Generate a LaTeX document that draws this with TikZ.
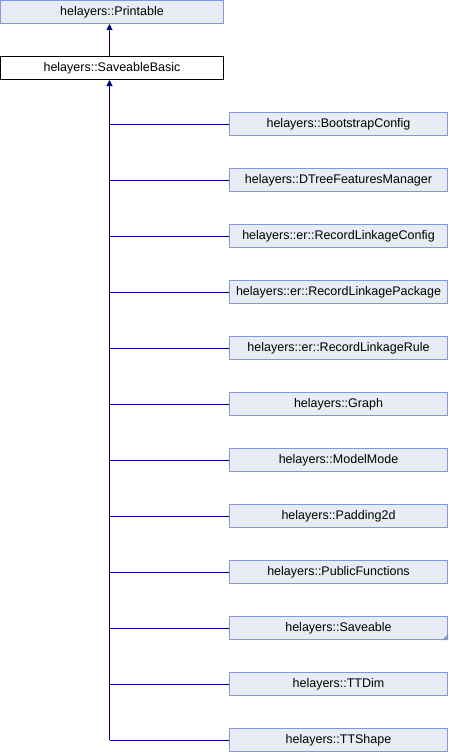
\documentclass[tikz,border=0pt]{standalone}
\usepackage{fontspec}
\setmainfont{Liberation Sans}
\usetikzlibrary{arrows.meta}
\definecolor{boxfill}{HTML}{E8ECF5}
\definecolor{boxline}{HTML}{8198D0}
\definecolor{conn}{HTML}{000080}
\tikzset{
  cls/.style={draw=boxline, fill=boxfill, line width=1pt, inner sep=0pt,
    font=\fontsize{12.5}{14}\selectfont, text=black},
  cur/.style={draw=black, fill=white, line width=1pt, inner sep=0pt,
    font=\fontsize{12.5}{14}\selectfont, text=black},
  child/.style={cls, minimum width=218pt, minimum height=23pt},
  edge/.style={draw=conn, line width=1pt},
  inh/.style={edge, -{Triangle[length=6pt,width=6pt]}},
}
\begin{document}
\begin{tikzpicture}[x=1pt,y=-1pt]
\useasboundingbox (0,0) rectangle (448,752);
\node[cls, minimum width=223pt, minimum height=23pt] (pr) at (112,12) {helayers::Printable};
\node[cur, minimum width=223pt, minimum height=23pt] (sb) at (112,68) {helayers::SaveableBasic};
\coordinate (t) at (109.5,68);
\foreach \k/\name/\txt in {
  0/c0/{helayers::BootstrapConfig},
  1/c1/{helayers::DTreeFeaturesManager},
  2/c2/{helayers::er::RecordLinkageConfig},
  3/c3/{helayers::er::RecordLinkagePackage},
  4/c4/{helayers::er::RecordLinkageRule},
  5/c5/{helayers::Graph},
  6/c6/{helayers::ModelMode},
  7/c7/{helayers::Padding2d},
  8/c8/{helayers::PublicFunctions},
  9/c9/{helayers::Saveable},
  10/c10/{helayers::TTDim},
  11/c11/{helayers::TTShape}}{
  \node[child] (\name) at (338.5,124+56*\k) {\txt};
  \draw[edge] (t|-\name.west) -- (\name.west);
}
\fill[boxline] (c9.south east) -- ++(-6,0) -- ++(6,-6) -- cycle;
\draw[inh] (t|-c11.west) -- (t|-sb.south);
\draw[inh] (t|-sb.north) -- (t|-pr.south);
\end{tikzpicture}
\end{document}
